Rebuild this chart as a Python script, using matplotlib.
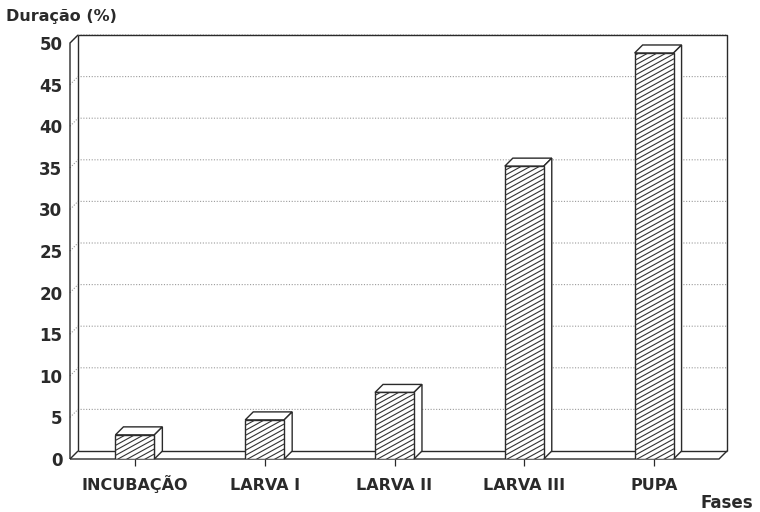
import matplotlib
matplotlib.use('Agg')
import matplotlib.pyplot as plt
from matplotlib.patches import Rectangle, Polygon
import numpy as np

fases = ['INCUBAÇÃO', 'LARVA I', 'LARVA II', 'LARVA III', 'PUPA']
duracao = [2.9, 4.7, 8.0, 35.2, 48.8]
yticks = list(range(0, 51, 5))

ink = '#2a2a2a'
plt.rcParams['font.family'] = 'DejaVu Sans'
plt.rcParams['font.weight'] = 'bold'

fig = plt.figure(figsize=(7.6, 5.12), dpi=100)
ax = fig.add_axes([70 / 760, 53 / 512, 649 / 760, 416 / 512])
ax.set_xlim(0, len(fases))
ax.set_ylim(0, 50)

# size of one pixel in data units, used for the fake depth
px = len(fases) / 649.
py = 50 / 416.
dx, dy = 8 * px, 8 * py
n = len(fases)
lkw = dict(color=ink, lw=1.0, clip_on=False, solid_capstyle='butt')

# back wall grid
for v in yticks[1:]:
    ax.plot([0, dx, n + dx], [v, v + dy, v + dy], color='#9a9a9a',
            lw=0.8, ls=(0, (1, 1.5)), clip_on=False, zorder=1)

# walls and floor
ax.plot([dx, n + dx, n + dx], [50 + dy, 50 + dy, dy], **lkw)
ax.plot([dx, dx], [dy, 50 + dy], **lkw)
ax.plot([0, 0, dx], [0, 50, 50 + dy], **lkw)
ax.plot([0, n, n + dx], [0, 0, dy], **lkw)
ax.plot([dx, n + dx], [dy, dy], **lkw)
ax.plot([0, dx], [0, dy], **lkw)

# bars with a slanted hatch on the front face
w = 0.30
for i, h in enumerate(duracao):
    x0 = i + 0.5 - w / 2
    top = Polygon([(x0, h), (x0 + dx, h + dy), (x0 + w + dx, h + dy),
                   (x0 + w, h)], closed=True, fc='white', ec=ink, lw=1.0,
                  zorder=3, clip_on=False)
    side = Polygon([(x0 + w, 0), (x0 + w + dx, dy), (x0 + w + dx, h + dy),
                    (x0 + w, h)], closed=True, fc='white', ec=ink, lw=1.0,
                   zorder=3, clip_on=False)
    front = Rectangle((x0, 0), w, h, fc='white', ec=ink, lw=1.0, zorder=4)
    ax.add_patch(top)
    ax.add_patch(side)
    ax.add_patch(front)
    W = w / px
    H = h / py
    s = 0.55
    for c in np.arange(-s * W, H + 5, 5.0):
        xs = np.array([0, W])
        ys = c + s * xs
        ln, = ax.plot(x0 + xs * px, ys * py, color='#333333', lw=0.8,
                      zorder=5)
        ln.set_clip_path(front)

for sp in ax.spines.values():
    sp.set_visible(False)

ax.set_yticks(yticks)
ax.set_yticklabels([str(v) for v in yticks], fontsize=12,
                   fontweight='bold', color=ink)
ax.tick_params(axis='y', length=0, pad=5.5)
ax.set_xticks([i + 0.5 for i in range(n)])
ax.set_xticklabels(fases, fontsize=11.5, fontweight='bold', color=ink,
                   va='baseline')
ax.tick_params(axis='x', length=5, width=0.9, color=ink, pad=17)

fig.text(6 / 760, 1 - 17 / 512, 'Duração (%)', fontsize=11.5,
         fontweight='bold', color=ink, va='center', ha='left')
fig.text(753 / 760, 1 - 503 / 512, 'Fases', fontsize=12,
         fontweight='bold', color=ink, va='center', ha='right')

fig.savefig('out.png', dpi=100, facecolor='white')
